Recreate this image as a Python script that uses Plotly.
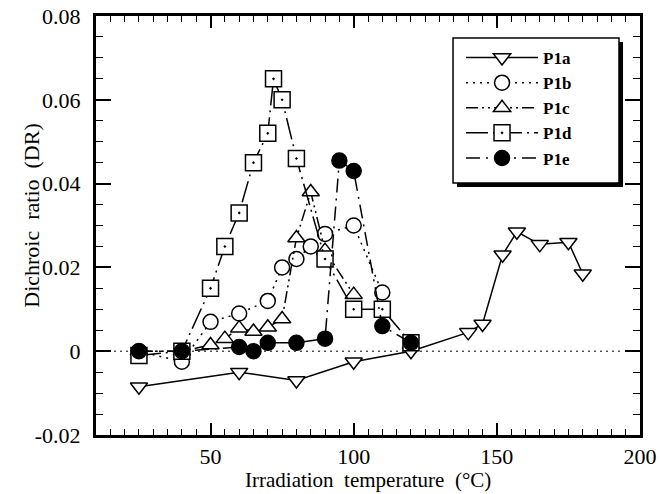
import plotly.graph_objects as go

# Data
p1a_x = [25, 60, 80, 100, 120, 140, 145, 152, 157, 165, 175, 180]
p1a_y = [-0.0085, -0.005, -0.007, -0.0025, 0.0, 0.0045, 0.0065, 0.023, 0.0285, 0.0255, 0.026, 0.0185]

p1b_x = [25, 40, 50, 60, 70, 75, 80, 85, 90, 100, 110]
p1b_y = [0.0, -0.0025, 0.007, 0.009, 0.012, 0.02, 0.022, 0.025, 0.028, 0.03, 0.014]

p1c_x = [25, 40, 50, 55, 60, 65, 70, 75, 80, 85, 90, 100]
p1c_y = [0.0, 0.0, 0.0015, 0.003, 0.0055, 0.0047, 0.0057, 0.0077, 0.027, 0.038, 0.024, 0.0135]

p1d_x = [25, 40, 50, 55, 60, 65, 70, 72, 75, 80, 90, 100, 110, 120]
p1d_y = [-0.001, 0.0, 0.015, 0.025, 0.033, 0.045, 0.052, 0.065, 0.06, 0.046, 0.022, 0.01, 0.01, 0.002]

p1e_x = [25, 40, 60, 65, 70, 80, 90, 95, 100, 110, 120]
p1e_y = [0.0, 0.0, 0.001, 0.0, 0.002, 0.002, 0.003, 0.0455, 0.043, 0.006, 0.002]

y_tickvals = [-0.02, 0, 0.02, 0.04, 0.06, 0.08]
y_ticktext = ["-0.02", "0", "0.02", "0.04", "0.06", "0.08"]
x_tickvals = [50, 100, 150, 200]
x_ticktext = ["50", "100", "150", "200"]

FONT = "Liberation Serif"

fig = go.Figure()

def add(name, x, y, symbol, fill, dash, size):
    fig.add_trace(go.Scatter(
        x=x, y=y, name=name, mode="lines+markers",
        line=dict(color="black", width=1.5, dash=dash),
        marker=dict(symbol=symbol, size=size, color=fill,
                    line=dict(color="black", width=1.5)),
    ))

add("P1a", p1a_x, p1a_y, "triangle-down", "white", "solid", 15)
add("P1b", p1b_x, p1b_y, "circle", "white", "2px,5px", 15)
add("P1c", p1c_x, p1c_y, "triangle-up", "white", "12px,4px,2px,4px,2px,4px", 15)
add("P1d", p1d_x, p1d_y, "square-dot", "white", "22px,5px,2px,5px", 16)
add("P1e", p1e_x, p1e_y, "circle", "black", "14px,6px,2px,6px", 15)

# dotted zero reference line
fig.add_shape(type="line", xref="x", yref="y", x0=10, x1=193, y0=0, y1=0,
              line=dict(color="black", width=1, dash="2px,4px"), layer="below")

# legend frame with drop shadow (legend itself is transparent on top)
fig.add_shape(type="rect", xref="paper", yref="paper",
              x0=0.6636, x1=0.9688, y0=0.5919, y1=0.938,
              line=dict(width=0), fillcolor="black", layer="above")
fig.add_shape(type="rect", xref="paper", yref="paper",
              x0=0.6563, x1=0.9614, y0=0.6014, y1=0.9475,
              line=dict(width=1.5, color="black"), fillcolor="white", layer="above")

axis_common = dict(
    showline=True, linewidth=3, linecolor="black", mirror="allticks",
    ticks="inside", tickwidth=1.5, tickcolor="black", showgrid=False,
    zeroline=False, automargin=False,
    tickfont=dict(family=FONT, size=22, color="black"),
)

fig.update_xaxes(
    range=[10, 200], tickvals=x_tickvals, ticktext=x_ticktext, ticklen=12,
    minor=dict(dtick=5, tick0=0, ticks="inside", ticklen=6, tickwidth=1.2, tickcolor="black", showgrid=False),
    ticklabelstandoff=0,
    **axis_common,
)
fig.update_yaxes(
    range=[-0.02, 0.08], tickvals=y_tickvals, ticktext=y_ticktext, ticklen=15,
    minor=dict(dtick=0.005, tick0=0, ticks="inside", ticklen=7, tickwidth=1.2, tickcolor="black", showgrid=False),
    ticklabelstandoff=8,
    **axis_common,
)

fig.add_annotation(
    text="Dichroic  ratio  (DR)", xref="paper", yref="paper",
    x=-0.12, y=0.525, xanchor="center", yanchor="middle", textangle=-90,
    showarrow=False, font=dict(family=FONT, size=22, color="black"),
)
fig.add_annotation(
    text="Irradiation  temperature  (°C)", xref="paper", yref="paper",
    x=0.5, y=-0.1085, xanchor="center", yanchor="middle",
    showarrow=False, font=dict(family=FONT, size=21, color="black"),
)

fig.update_layout(
    width=660, height=494,
    margin=dict(l=96, r=20, t=16, b=59),
    paper_bgcolor="white", plot_bgcolor="white",
    showlegend=True,
    legend=dict(
        x=0.671, y=0.9427, xanchor="left", yanchor="top",
        bgcolor="rgba(0,0,0,0)", borderwidth=0,
        font=dict(family=FONT, size=17, color="black", weight="bold"),
        itemwidth=72, tracegroupgap=0,
    ),
)

fig.write_html("out.html")
